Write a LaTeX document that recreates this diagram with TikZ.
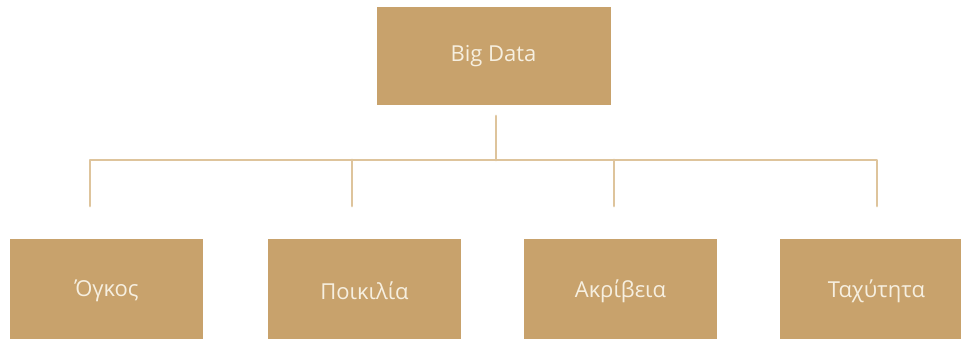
\documentclass[tikz,border=0pt]{standalone}
\usepackage{fontspec}
\setmainfont{Open Sans}
\definecolor{boxfill}{HTML}{C8A26C}
\definecolor{linecol}{HTML}{DEC49C}
\definecolor{txtcol}{HTML}{F6EFE0}
\begin{document}
\begin{tikzpicture}[x=1pt,y=-1pt,
  tbox/.style={fill=boxfill,draw=none,inner sep=0pt,text=txtcol,font=\fontsize{22}{26}\selectfont},
  conn/.style={draw=linecol,line width=2.8pt,line cap=round,line join=round}]
\useasboundingbox (0,0) rectangle (961,338);
\clip (0,0) rectangle (961,338);
\node[tbox,minimum width=234pt,minimum height=98pt] (bd) at (493.5,56) {Big Data};
\node[tbox,minimum width=193pt,minimum height=104pt] (o) at (106.5,291) {Όγκος};
\node[tbox,minimum width=193pt,minimum height=104pt] (p) at (364.5,291) {Ποικιλία};
\node[tbox,minimum width=193pt,minimum height=104pt] (a) at (620.5,291) {Ακρίβεια};
\node[tbox,minimum width=193pt,minimum height=104pt] (t) at (876.5,291) {Ταχύτητα};
\coordinate (top) at (496,116);
\coordinate (hub) at (496,160);
\coordinate (h1) at (90,160);
\coordinate (h2) at (352,160);
\coordinate (h3) at (614,160);
\coordinate (h4) at (877,160);
\coordinate (e1) at (90,206);
\coordinate (e2) at (352,206);
\coordinate (e3) at (614,206);
\coordinate (e4) at (877,206);
\draw[conn] (top) -- (hub);
\draw[conn] (e1) -- (h1) -- (h4) -- (e4);
\draw[conn] (h2) -- (e2);
\draw[conn] (h3) -- (e3);
\end{tikzpicture}
\end{document}
